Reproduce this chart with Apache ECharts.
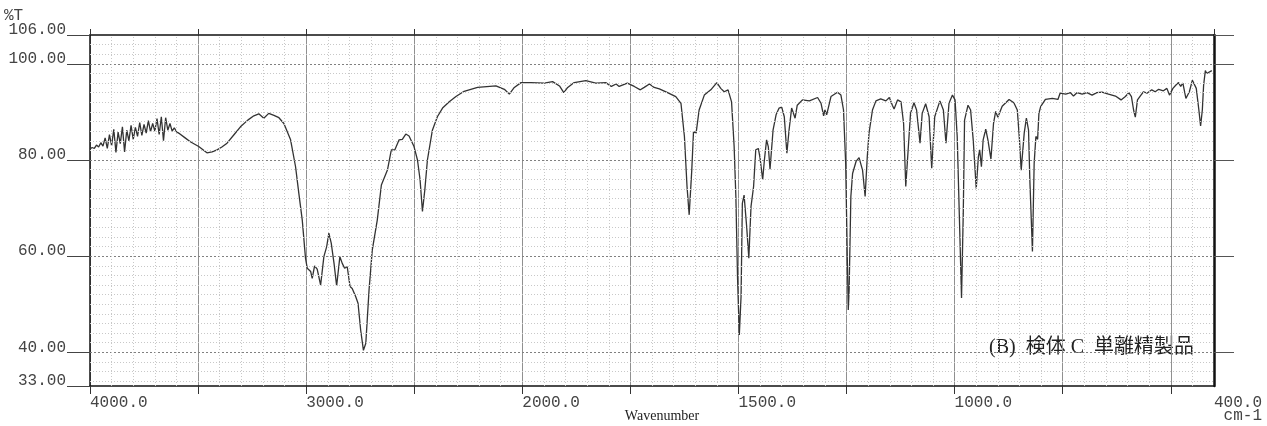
<!DOCTYPE html>
<html><head><meta charset="utf-8">
<script src="https://cdn.jsdelivr.net/npm/echarts@6/dist/echarts.min.js"></script>
<style>html,body{margin:0;padding:0;background:#fff}#c{width:1267px;height:426px}</style>
</head><body><div id="c"></div>
<script>
// ---- data ----
const wavenumbers = [
4000,3990,3980,3970,3960,3950,3940,3930,3920,3910,3900,3890,3880,3870,3860,3850,3840,3830,3820,3810,
3800,3790,3780,3770,3760,3750,3740,3730,3720,3710,3700,3690,3680,3670,3660,3650,3640,3630,3620,3610,
3600,3590,3582,3560,3536,3497,3459,3435,3412,3390,3366,3335,3304,3270,3242,3219,3196,3173,3149,3126,
3103,3072,3049,3034,3018,3003,2995,2979,2972,2961,2949,2933,2918,2905,2895,2884,2871,2859,2844,2833,
2822,2810,2797,2787,2771,2760,2748,2735,2724,2709,2694,2671,2652,2624,2606,2590,2570,2555,2539,2524,
2501,2485,2473,2462,2451,2439,2416,2393,2369,2338,2307,2269,2246,2207,2122,2083,2060,2037,2006,1980,
1949,1930,1914,1904,1895,1880,1853,1830,1807,1794,1783,1776,1757,1741,1727,1718,1706,1695,1683,1664,
1645,1633,1625,1619,1614,1608,1604,1598,1591,1579,1564,1550,1541,1533,1524,1516,1510,1506,1502,1498,
1494,1491,1487,1481,1476,1471,1465,1460,1454,1450,1444,1440,1435,1431,1427,1420,1413,1406,1400,1394,
1388,1383,1377,1373,1369,1364,1352,1336,1317,1309,1303,1300,1296,1286,1271,1263,1257,1252,1248,1246,
1244,1240,1236,1228,1221,1213,1207,1202,1198,1190,1182,1171,1159,1151,1144,1140,1132,1124,1118,1113,
1108,1102,1094,1088,1080,1075,1067,1059,1053,1046,1034,1026,1020,1013,1005,999,994,989,984,980,
977,969,963,957,950,945,942,938,934,928,923,916,910,905,900,890,874,863,855,850,
846,839,834,829,826,820,816,812,808,805,801,790,774,761,756,743,732,725,717,705,
694,682,671,659,644,628,615,605,597,591,586,582,577,569,563,555,544,536,528,517,
509,503,495,488,482,477,472,465,457,450,441,435,431,427,424,420,417,413,405
];
const transmittance = [
82.3,82.6,82.4,83.1,82.7,83.6,82.9,84.6,82.4,85.3,83.0,86.4,81.6,85.8,83.4,86.9,81.7,86.2,84.0,87.2,
84.3,86.8,84.9,87.8,85.1,87.4,85.6,88.2,85.9,87.6,86.0,88.6,85.3,89.0,84.0,88.8,86.2,87.6,86.0,86.7,
85.9,85.6,85.2,84.6,83.8,82.8,81.5,81.7,82.1,82.7,83.5,85.2,86.9,88.3,89.2,89.6,88.7,89.7,89.3,88.8,
87.6,84.2,78.6,73.1,67.5,59.6,57.5,56.8,55.4,58.0,57.3,54.0,59.9,62.0,64.8,62.7,58.5,53.8,59.9,58.5,
57.5,57.8,53.7,53.3,51.6,50.2,44.7,40.4,41.9,53.0,61.3,67.5,74.8,77.9,82.1,82.1,84.2,84.3,85.4,85.0,
82.8,80.0,75.9,69.3,73.8,80.0,86.2,89.0,90.8,92.1,93.2,94.3,94.6,95.1,95.4,94.7,93.7,95.1,96.1,96.1,
96.0,96.3,95.4,94.0,95.1,96.1,96.5,96.0,96.1,95.3,95.8,95.3,96.0,95.3,94.6,95.1,95.8,95.1,94.8,94.0,
93.2,91.8,84.9,74.5,68.6,77.9,85.9,85.6,90.4,93.5,94.6,96.1,94.9,94.2,94.6,92.1,82.8,72.4,55.1,43.6,
51.6,71.0,72.7,66.1,59.6,70.3,74.5,82.1,82.4,80.4,75.9,80.0,84.2,82.8,78.1,86.2,89.4,90.8,91.0,89.0,
81.4,86.2,90.8,90.4,88.7,91.4,92.5,92.3,93.0,91.8,89.2,90.4,89.4,93.2,94.1,93.5,90.4,79.3,58.5,48.8,
53.0,72.4,77.2,79.7,80.5,77.9,72.4,80.7,85.6,90.4,92.3,92.7,92.3,93.0,91.4,90.6,92.5,92.1,87.6,74.5,
81.4,89.7,91.9,90.4,83.5,89.7,91.7,89.0,78.3,89.0,92.3,90.4,83.5,91.8,93.5,92.5,84.9,68.2,51.3,68.9,
88.3,91.4,90.4,84.2,74.1,80.7,82.1,78.6,84.2,86.4,84.2,80.2,87.6,90.1,88.9,91.2,92.6,91.9,90.4,84.2,
77.9,85.6,88.7,86.2,75.9,61.0,79.3,84.9,84.3,89.7,91.1,92.6,92.8,92.6,93.9,93.7,94.0,93.3,94.0,93.7,
94.0,93.5,94.0,94.1,93.7,93.3,92.5,93.2,94.0,93.2,90.4,88.9,92.5,93.5,94.2,93.9,94.6,94.2,94.7,94.4,
94.9,93.5,94.9,95.6,96.1,95.3,96.0,92.8,94.2,96.6,94.9,90.4,87.1,90.4,95.6,98.6,98.0,98.0,98.6
];
const xLabelWavenumbers = [4000, 3000, 2000, 1500, 1000, 400];
const xTickWavenumbers = [4000,3500,3000,2500,2000,1750,1500,1250,1000,750,500];
const yLabelValues = [33, 40, 60, 80, 100, 106];
const yRightTickValues = [40, 60, 80, 100, 106];
const yMajorGrid = [40, 60, 80, 100];
const yMinorGrid = [34,36,38,42,44,46,48,50,52,54,56,58,62,64,66,68,70,72,74,76,78,82,84,86,88,90,92,94,96,98,102,104];

// instrument scale: 4000-2000 at half scale, 2000-400 at full scale
function toU(wn){ return wn >= 2000 ? (4000 - wn) / 2 : 1000 + (2000 - wn); }
function toWn(u){ return u <= 1000 ? 4000 - 2 * u : 2000 - (u - 1000); }

// minor vertical chart-paper lines: every 100 cm-1 above 2000, every 50 cm-1 below
const xMinorGrid = [];
for (let u = 50; u < 2600; u += 50) { if (u % 250 !== 0) xMinorGrid.push(u); }

const mono = '"Liberation Mono", "DejaVu Sans Mono", monospace';
const chart = echarts.init(document.getElementById('c'), null, {renderer: 'canvas'});
const spectrum = wavenumbers.map((w, i) => [toU(w), transmittance[i]]);
const minorStyle = {color: '#c8c8c8', type: [1, 2], width: 1};

chart.setOption({
  animation: false,
  backgroundColor: '#fff',
  grid: {left: 90, right: 53, top: 35, bottom: 40, containLabel: false, outerBoundsMode: 'none'},
  xAxis: [{
    type: 'value', position: 'bottom', min: 0, max: 2600, interval: 250,
    axisLine: {show: true, onZero: false, lineStyle: {color: '#111', width: 1.5}},
    axisTick: {show: true, customValues: xTickWavenumbers.map(toU), length: 8, lineStyle: {color: '#333', width: 1}},
    axisLabel: {
      show: true, customValues: xLabelWavenumbers.map(toU), align: 'left', margin: 10,
      fontFamily: mono, fontSize: 16, color: '#444', lineHeight: 13,
      formatter: v => { const w = Math.round(toWn(v)); return w === 400 ? '400.0\n cm-1' : w.toFixed(1); }
    },
    splitLine: {show: false},
    name: 'Wavenumber', nameLocation: 'middle', nameGap: 23, nameMoveOverlap: false,
    nameTextStyle: {fontFamily: '"Liberation Serif", serif', fontSize: 14, color: '#222', padding: [0, 0, 0, 20]}
  }, {
    type: 'value', position: 'top', min: 0, max: 2600, interval: 250,
    axisLine: {show: true, onZero: false, lineStyle: {color: '#111', width: 1.5}},
    axisTick: {show: true, length: 6, lineStyle: {color: '#333'}},
    axisLabel: {show: false},
    splitLine: {show: true, lineStyle: {color: '#909090', width: 1}}
  }],
  yAxis: [{
    type: 'value', position: 'left', min: 33, max: 106,
    axisLine: {show: true, onZero: false, lineStyle: {color: '#111', width: 1.5}},
    axisTick: {show: true, customValues: yLabelValues, length: 23, lineStyle: {color: '#444', width: 1}},
    axisLabel: {show: true, customValues: yLabelValues, margin: 24, verticalAlign: 'bottom', lineHeight: 10,
      fontFamily: mono, fontSize: 16, color: '#444', formatter: v => Number(v).toFixed(2)},
    splitLine: {show: false}
  }, {
    type: 'value', position: 'right', min: 33, max: 106,
    axisLine: {show: true, onZero: false, lineStyle: {color: '#111', width: 2.5}},
    axisTick: {show: true, customValues: yRightTickValues, length: 20, lineStyle: {color: '#555', width: 1}},
    axisLabel: {show: false},
    splitLine: {show: false}
  }],
  graphic: [
    {type: 'text', left: 4, top: 8, style: {text: '%T', fontFamily: mono, fontSize: 16, fill: '#444'}},
    {type: 'text', left: 989, top: 338, style: {text: '(B)  検体 C  単離精製品', fontFamily: '"Liberation Serif", "Noto Sans CJK JP", serif', fontSize: 20, fill: '#222'}}
  ],
  series: [{
    type: 'line', xAxisIndex: 0, yAxisIndex: 0, z: 1, silent: true,
    data: [[0, 50]], showSymbol: false, lineStyle: {opacity: 0},
    markLine: {
      silent: true, symbol: ['none', 'none'], label: {show: false}, animation: false,
      data: yMinorGrid.map(v => ({yAxis: v, lineStyle: minorStyle}))
        .concat(yMajorGrid.map(v => ({yAxis: v, lineStyle: {color: '#808080', type: [2, 2], width: 1}})))
        .concat(xMinorGrid.map(u => ({xAxis: u, lineStyle: minorStyle})))
    }
  }, {
    type: 'line', xAxisIndex: 0, yAxisIndex: 0, z: 3,
    data: spectrum, showSymbol: false, symbol: 'none', smooth: false,
    lineStyle: {color: '#333', width: 1.3}
  }]
});
</script></body></html>
